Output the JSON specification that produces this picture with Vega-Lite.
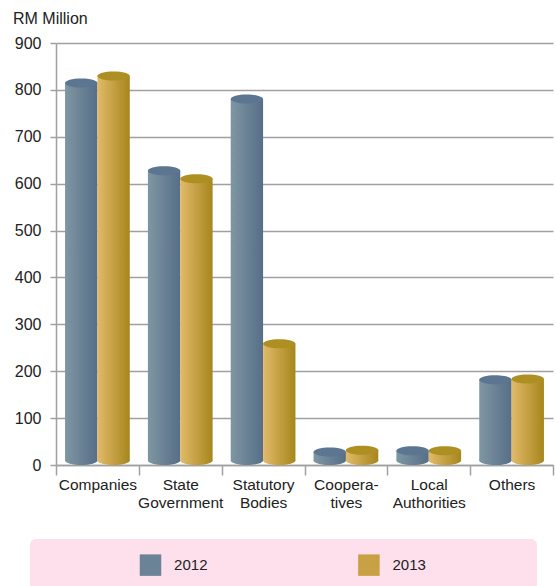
{
  "$schema": "https://vega.github.io/schema/vega-lite/v6.json",
  "width": 497,
  "height": 422,
  "autosize": {"type": "none"},
  "padding": {"left": 56, "top": 43, "right": 3, "bottom": 121},
  "background": "white",
  "title": {"text": "RM Million", "anchor": "start", "frame": "group", "dx": -43, "dy": 16, "offset": 11, "baseline": "alphabetic", "fontSize": 16, "font": "Liberation Sans", "fontWeight": "normal", "color": "#222222"},
  "config": {"view": {"stroke": null}},
  "data": {"values": [
    {"sector": "Companies", "year": "2012", "value": 805},
    {"sector": "Companies", "year": "2013", "value": 820},
    {"sector": "State|Government", "year": "2012", "value": 618},
    {"sector": "State|Government", "year": "2013", "value": 601},
    {"sector": "Statutory|Bodies", "year": "2012", "value": 771},
    {"sector": "Statutory|Bodies", "year": "2013", "value": 249},
    {"sector": "Coopera-|tives", "year": "2012", "value": 18},
    {"sector": "Coopera-|tives", "year": "2013", "value": 22},
    {"sector": "Local|Authorities", "year": "2012", "value": 21},
    {"sector": "Local|Authorities", "year": "2013", "value": 21},
    {"sector": "Others", "year": "2012", "value": 172},
    {"sector": "Others", "year": "2013", "value": 174}
  ]},
  "encoding": {
    "x": {"field": "sector", "type": "nominal", "sort": null,
      "scale": {"paddingInner": 0, "paddingOuter": 0},
      "axis": {"title": null, "labelExpr": "split(datum.label, '|')", "labelAngle": 0, "labelFontSize": 15.5, "labelFont": "Liberation Sans", "labelColor": "#222222", "labelLineHeight": 18, "labelPadding": 2, "tickBand": "extent", "tickSize": 10, "tickWidth": 1.5, "tickColor": "#a0a0a0", "domainColor": "#a0a0a0", "domainWidth": 1.5, "grid": false}},
    "xOffset": {"field": "year", "type": "nominal", "scale": {"paddingInner": 0, "paddingOuter": 0.28}},
    "y": {"field": "value", "type": "quantitative",
      "scale": {"domain": [0, 900], "nice": false},
      "axis": {"title": null, "values": [0, 100, 200, 300, 400, 500, 600, 700, 800, 900], "labelFontSize": 16, "labelFont": "Liberation Sans", "labelColor": "#222222", "labelPadding": 9, "tickSize": 6, "tickWidth": 1.5, "tickColor": "#a0a0a0", "domainColor": "#a0a0a0", "domainWidth": 1.5, "grid": true, "gridColor": "#a0a0a0", "gridWidth": 1.5}}
  },
  "layer": [
    {
      "mark": {"type": "point", "shape": "M -1 0 A 1 0.28 0 1 0 1 0 A 1 0.28 0 1 0 -1 0 Z", "size": 1043, "filled": true, "opacity": 1, "strokeWidth": 0, "yOffset": -4.5},
      "encoding": {
        "y": {"datum": 0},
        "fill": {"condition": {"test": "datum.year === '2012'", "value": {"gradient": "linear", "x1": 0, "x2": 1, "y1": 0, "y2": 0, "stops": [{"offset": 0, "color": "#7f96a2"}, {"offset": 1, "color": "#566e88"}]}},
          "value": {"gradient": "linear", "x1": 0, "x2": 1, "y1": 0, "y2": 0, "stops": [{"offset": 0, "color": "#e2ba6a"}, {"offset": 1, "color": "#a6861c"}]}}
      }
    },
    {
      "mark": {"type": "bar", "yOffset": -4.5, "y2Offset": -4.5},
      "encoding": {
        "fill": {"condition": {"test": "datum.year === '2012'", "value": {"gradient": "linear", "x1": 0, "x2": 1, "y1": 0, "y2": 0, "stops": [{"offset": 0, "color": "#7f96a2"}, {"offset": 1, "color": "#566e88"}]}},
          "value": {"gradient": "linear", "x1": 0, "x2": 1, "y1": 0, "y2": 0, "stops": [{"offset": 0, "color": "#e2ba6a"}, {"offset": 1, "color": "#a6861c"}]}}
      }
    },
    {
      "mark": {"type": "point", "shape": "M -1 0 A 1 0.28 0 1 0 1 0 A 1 0.28 0 1 0 -1 0 Z", "size": 1043, "filled": true, "opacity": 1, "strokeWidth": 0, "yOffset": -4.5},
      "encoding": {
        "fill": {"condition": {"test": "datum.year === '2012'", "value": "#5c7591"}, "value": "#ad8f22"}
      }
    },
    {
      "mark": {"type": "bar", "opacity": 0},
      "encoding": {
        "color": {"field": "year", "type": "nominal",
          "scale": {"domain": ["2012", "2013"], "range": ["#6b8396", "#c9a145"]},
          "legend": {"orient": "none", "legendX": -26, "legendY": 496, "direction": "horizontal", "title": "\u00a0", "titleOrient": "left", "titleFontSize": 4, "titlePadding": 94.5, "padding": 15, "fillColor": "#fde0ec", "cornerRadius": 6, "symbolType": "square", "symbolSize": 462, "symbolStrokeWidth": 0, "symbolOpacity": 1, "labelOffset": 12.6, "labelFontSize": 15, "labelFont": "Liberation Sans", "labelColor": "#222222", "columnPadding": 54.4, "labelExpr": "pad(datum.label, 27, '\u00a0') + '\u200b'", "labelLimit": 400,
            "encode": {"symbols": {"update": {"fill": {"signal": "datum.value === '2012' ? {gradient: 'linear', x1: 0, y1: 0, x2: 1, y2: 0, stops: [{offset: 0, color: '#7f96a2'}, {offset: 1, color: '#566e88'}]} : {gradient: 'linear', x1: 0, y1: 0, x2: 1, y2: 0, stops: [{offset: 0, color: '#e2ba6a'}, {offset: 1, color: '#a6861c'}]}"}}}}}
        }
      }
    }
  ]
}
